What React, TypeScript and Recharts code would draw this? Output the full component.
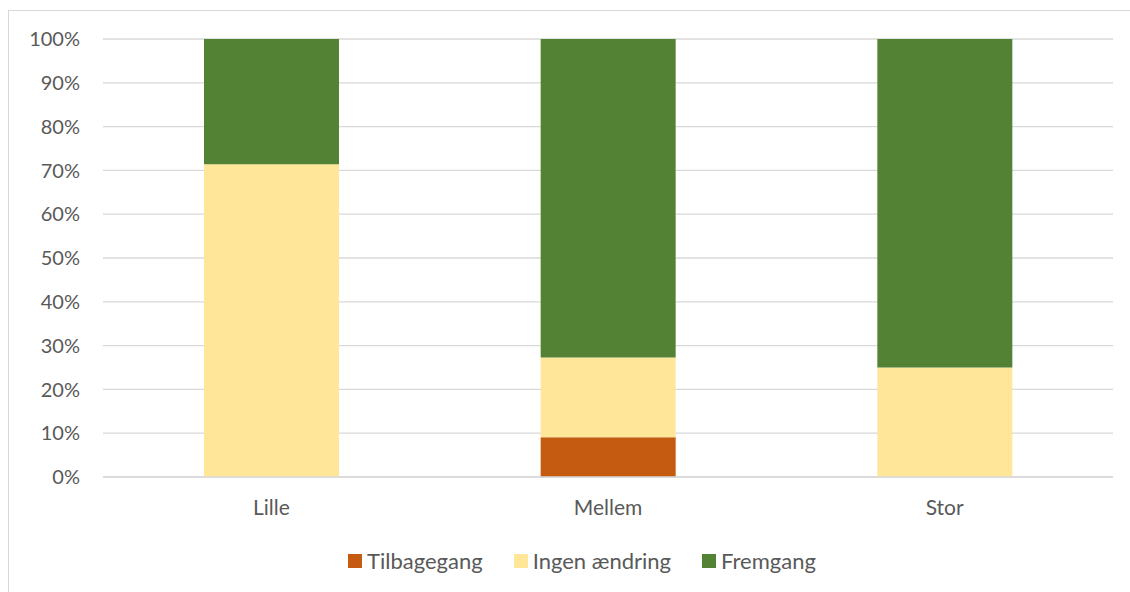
import React from 'react';
import { BarChart, Bar, XAxis, YAxis, CartesianGrid, Legend } from 'recharts';

const categories = ['Lille', 'Mellem', 'Stor'];
const tilbagegang = [0, 0.091, 0];
const ingenAendring = [0.714, 0.182, 0.25];
const fremgang = [0.286, 0.727, 0.75];
const yTicks = [0, 0.1, 0.2, 0.3, 0.4, 0.5, 0.6, 0.7, 0.8, 0.9, 1];

const series = [
  { key: 'tilbagegang', name: 'Tilbagegang', color: '#C55A11' },
  { key: 'ingen', name: 'Ingen ændring', color: '#FFE699' },
  { key: 'fremgang', name: 'Fremgang', color: '#548235' },
];

const data = categories.map((name, i) => ({
  name,
  tilbagegang: tilbagegang[i],
  ingen: ingenAendring[i],
  fremgang: fremgang[i],
}));

const font = 'Lato, "Noto Sans", sans-serif';

const LegendContent = () => (
  <div
    style={{
      display: 'flex',
      justifyContent: 'center',
      gap: 31,
      fontFamily: font,
      fontSize: 22,
      color: '#595959',
      paddingLeft: 42,
    }}
  >
    {series.map((s) => (
      <div key={s.key} style={{ display: 'flex', alignItems: 'center' }}>
        <span style={{ width: 14, height: 14, background: s.color, display: 'inline-block', marginRight: 5 }} />
        <span>{s.name}</span>
      </div>
    ))}
  </div>
);

export default function App() {
  return (
    <div style={{ position: 'fixed', left: 0, top: 0, width: 1130, height: 592, overflow: 'hidden', background: '#fff' }}>
      <div
        style={{
          position: 'absolute',
          left: 8,
          top: 10,
          width: 1140,
          height: 600,
          border: '1px solid #d9d9d9',
        }}
      >
        <BarChart
          width={1121}
          height={581}
          data={data}
          margin={{ top: 28, right: 17, bottom: 0, left: 0 }}
          barCategoryGap="30%"
        >
          <CartesianGrid vertical={false} stroke="#d9d9d9" strokeWidth={1.3} />
          <XAxis
            dataKey="name"
            axisLine={{ stroke: '#d9d9d9', strokeWidth: 1.3 }}
            tickLine={false}
            tickMargin={17}
            height={70}
            tick={{ fill: '#595959', fontSize: 21, fontFamily: font }}
          />
          <YAxis
            width={94}
            domain={[0, 1]}
            ticks={yTicks}
            interval={0}
            axisLine={false}
            tickLine={false}
            tickMargin={17}
            tickFormatter={(v: number) => `${Math.round(v * 100)}%`}
            tick={{ fill: '#595959', fontSize: 20, fontFamily: font }}
          />
          <Legend verticalAlign="bottom" height={45} content={<LegendContent />} />
          {series.map((s) => (
            <Bar key={s.key} dataKey={s.key} name={s.name} stackId="a" fill={s.color} isAnimationActive={false} />
          ))}
        </BarChart>
      </div>
    </div>
  );
}
